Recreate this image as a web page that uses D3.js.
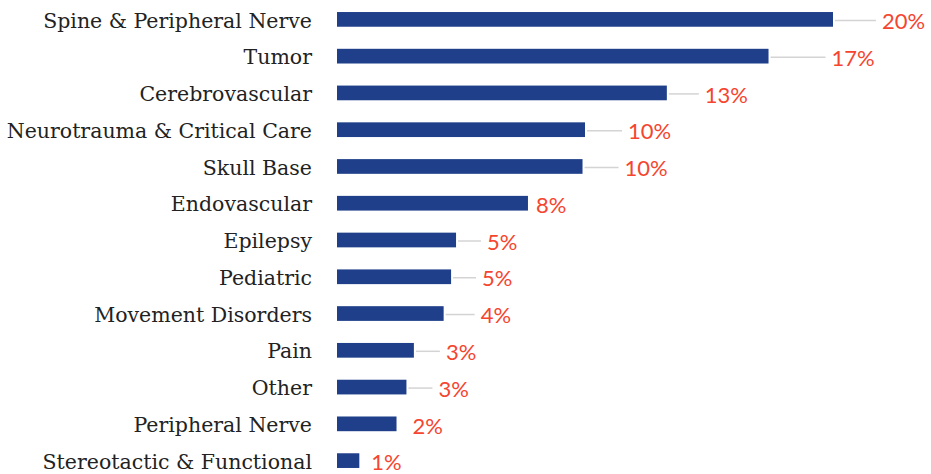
<!DOCTYPE html>
<meta charset="utf-8">
<script src="https://d3js.org/d3.v7.min.js"></script>
<style>
  body { margin: 0; background: #fff; }
  .cat { font-family: "DejaVu Serif", serif; font-size: 20.5px; fill: #222; }
  .pct { font-family: Lato, "Liberation Sans", sans-serif; font-size: 22px; fill: #f5452f; }
</style>
<svg id="chart" width="931" height="474"></svg>
<script>
// categories, top to bottom
var categories = ["Spine & Peripheral Nerve", "Tumor", "Cerebrovascular", "Neurotrauma & Critical Care",
  "Skull Base", "Endovascular", "Epilepsy", "Pediatric", "Movement Disorders", "Pain", "Other",
  "Peripheral Nerve", "Stereotactic & Functional"];
// share in percent
var shares = [20.0, 17.4, 13.3, 10.0, 9.9, 7.7, 4.8, 4.6, 4.3, 3.1, 2.8, 2.4, 0.9];
// how far each label sits right of its bar end, px (Excel dragged labels)
var labelGap = [49, 63, 38, 43, 42, 8, 31, 31, 37, 32, 32, 16, 12];

var svg = d3.select("#chart");

var x = d3.scaleLinear().domain([0, 20]).range([337, 833]);
var y = d3.scaleBand().domain(categories).range([1, 479]).paddingInner(0.6).paddingOuter(0.3);

var rows = svg.selectAll("g.row")
  .data(categories)
  .enter().append("g")
  .attr("class", "row");

rows.append("text")
  .attr("class", "cat")
  .attr("x", 312)
  .attr("y", function(d) { return y(d) + y.bandwidth() / 2 + 1; })
  .attr("dy", "0.35em")
  .attr("text-anchor", "end")
  .text(function(d) { return d; });

rows.append("rect")
  .attr("x", x(0))
  .attr("y", function(d) { return y(d); })
  .attr("width", function(d, i) { return x(shares[i]) - x(0); })
  .attr("height", y.bandwidth())
  .attr("fill", "#1f3f8a");

// leader lines where the label was pulled away
rows.filter(function(d, i) { return labelGap[i] > 20; })
  .append("line")
  .attr("x1", function(d) { return x(shares[categories.indexOf(d)]) + 2; })
  .attr("x2", function(d) { var i = categories.indexOf(d); return x(shares[i]) + labelGap[i] - 6; })
  .attr("y1", function(d) { return y(d) + y.bandwidth() / 2 + 1; })
  .attr("y2", function(d) { return y(d) + y.bandwidth() / 2 + 1; })
  .attr("stroke", "#d4d4d4")
  .attr("stroke-width", 1.5);

rows.append("text")
  .attr("class", "pct")
  .attr("x", function(d, i) { return x(shares[i]) + labelGap[i]; })
  .attr("y", function(d) { return y(d) + y.bandwidth() / 2 + 2; })
  .attr("dy", "0.35em")
  .text(function(d, i) { return Math.round(shares[i]) + "%"; });
</script>
